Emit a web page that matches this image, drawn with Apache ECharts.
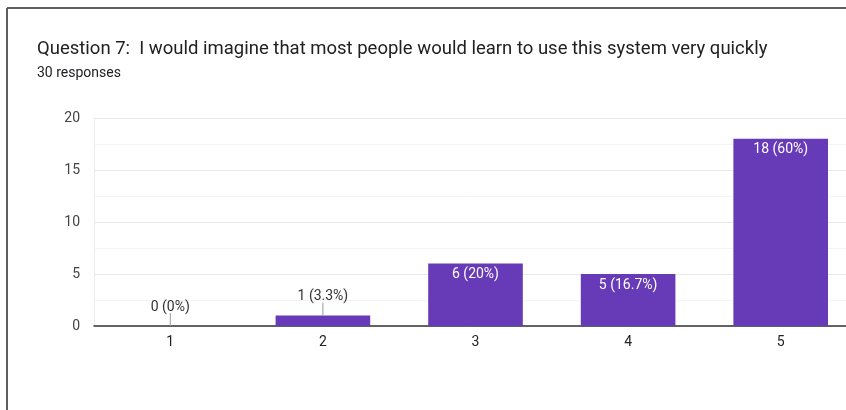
<!DOCTYPE html>
<html>
<head>
<meta charset="utf-8">
<script src="https://cdn.jsdelivr.net/npm/echarts@6/dist/echarts.min.js"></script>
<style>
html,body{margin:0;padding:0;background:#fff;}
#c{width:846px;height:410px;}
</style>
</head>
<body>
<div id="c"></div>
<script>
const titleText = "Question 7:  I would imagine that most people would learn to use this system very quickly";
const subtitleText = "30 responses";
const categories = ["1", "2", "3", "4", "5"];
const counts = [0, 1, 6, 5, 18];
const labels = ["0 (0%)", "1 (3.3%)", "6 (20%)", "5 (16.7%)", "18 (60%)"];
const yTicks = [0, 5, 10, 15, 20];

const chart = echarts.init(document.getElementById('c'), null, {renderer: 'canvas'});
const FONT = 'Roboto, "Liberation Sans", Arial, sans-serif';
const SMALL = 5; // values below this get an outside label with leader line

chart.setOption({
  backgroundColor: '#fff',
  animation: false,
  graphic: [
    {type: 'line', shape: {x1: 7, y1: 8, x2: 846, y2: 8}, style: {stroke: '#5f5f5f', lineWidth: 2}},
    {type: 'line', shape: {x1: 7, y1: 8, x2: 7, y2: 410}, style: {stroke: '#5f5f5f', lineWidth: 2}},
    {type: 'text', left: 37, top: 40, style: {text: titleText, font: '18.5px ' + FONT, fill: '#202124'}},
    {type: 'text', left: 37, top: 66, style: {text: subtitleText, font: '14px ' + FONT, fill: '#202124'}}
  ],
  grid: {left: 94, top: 118, width: 763, height: 208, containLabel: false, outerBoundsMode: 'none'},
  xAxis: {
    type: 'category',
    data: categories,
    axisLine: {show: true, lineStyle: {color: '#333', width: 1.5}},
    axisTick: {show: false},
    axisLabel: {color: '#222', fontFamily: FONT, fontSize: 14, margin: 9},
    splitLine: {show: false}
  },
  yAxis: {
    type: 'value',
    min: yTicks[0],
    max: yTicks[yTicks.length - 1],
    interval: 5,
    axisLine: {show: true, lineStyle: {color: '#ececec', width: 1}},
    axisTick: {show: false},
    axisLabel: {color: '#444', fontFamily: FONT, fontSize: 14, margin: 14},
    splitLine: {show: true, lineStyle: {color: '#e9e9e9', width: 1}},
    minorTick: {show: false, splitNumber: 2},
    minorSplitLine: {show: true, lineStyle: {color: '#f4f4f4', width: 1}}
  },
  series: [
    {
      type: 'bar',
      data: counts.map((v, i) => ({
        value: v,
        label: v < SMALL
          ? {show: true, position: 'top', distance: 12, color: '#333'}
          : {show: true, position: 'insideTop', distance: 4, color: '#fff'}
      })),
      barCategoryGap: '38%',
      itemStyle: {color: '#673ab7'},
      label: {
        show: true,
        fontFamily: FONT,
        fontSize: 14,
        formatter: p => labels[p.dataIndex]
      },
      z: 2
    },
    {
      type: 'custom',
      data: counts.map((v, i) => [i, v]),
      renderItem: function (params, api) {
        const v = api.value(1);
        if (v >= SMALL) return null;
        const p = api.coord([api.value(0), v]);
        return {
          type: 'line',
          shape: {x1: p[0], y1: p[1], x2: p[0], y2: p[1] - 13},
          style: {stroke: '#999', lineWidth: 1}
        };
      },
      z: 3,
      silent: true
    }
  ]
});
</script>
</body>
</html>
